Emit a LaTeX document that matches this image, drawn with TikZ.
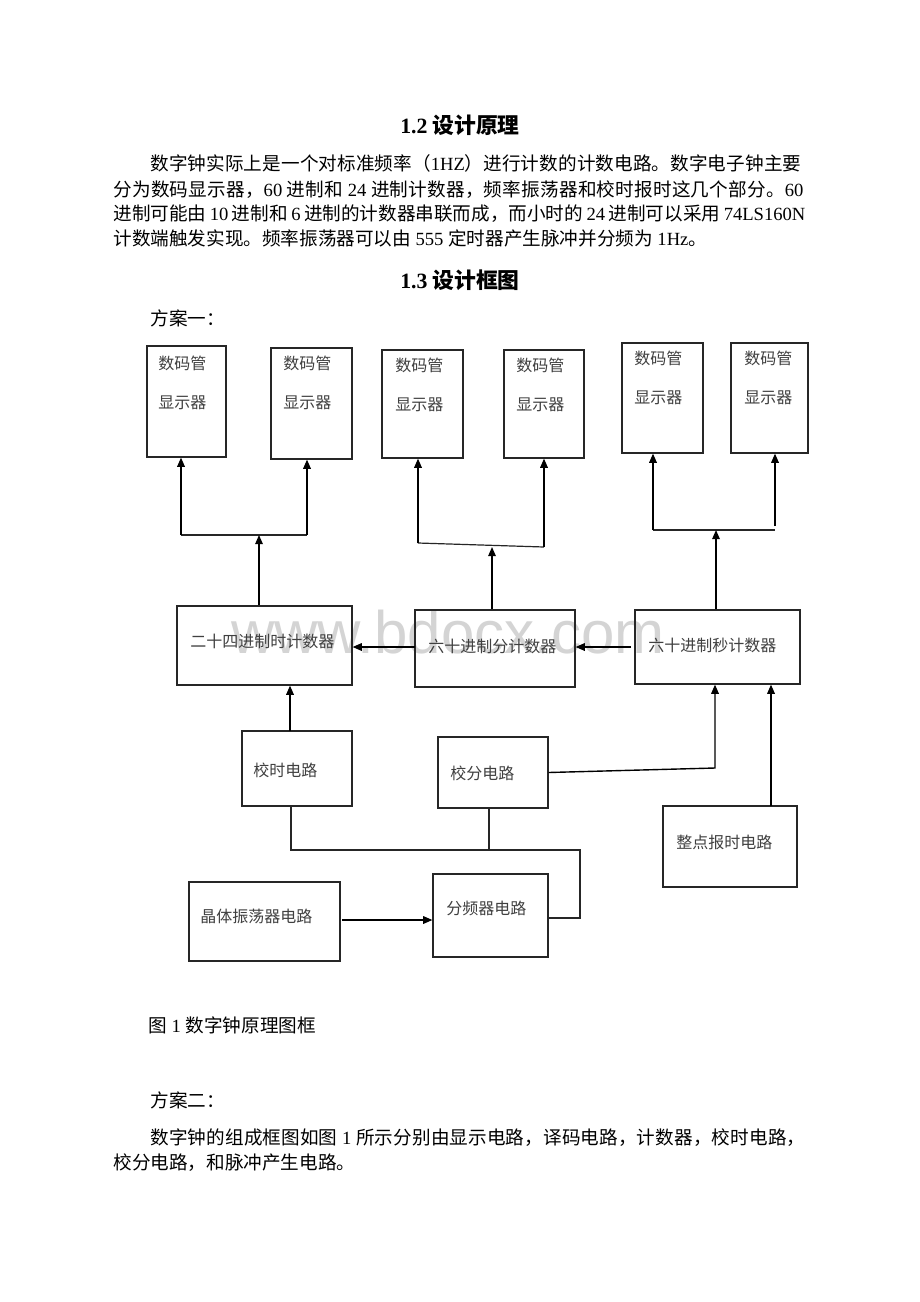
\documentclass[tikz,border=0pt]{standalone}
\usepackage{fontspec}
\setmainfont{Liberation Serif}
\newfontfamily\cjk{Noto Sans CJK SC}
\newfontfamily\wmfont{Liberation Sans}
\usetikzlibrary{fit,arrows.meta}
\newcommand\lat[1]{{\rmfamily #1}}
\XeTeXinterchartokenstate=1
\newXeTeXintercharclass\CJKcls
\count255="3000
\loop\ifnum\count255<"A000 \XeTeXcharclass\count255=\CJKcls \advance\count255 by 1 \repeat
\count255="FF00
\loop\ifnum\count255<"FFF0 \XeTeXcharclass\count255=\CJKcls \advance\count255 by 1 \repeat
\XeTeXinterchartoks\CJKcls\CJKcls={\hskip0pt plus 1fil\relax}
\begin{document}
\begin{tikzpicture}[x=0.5pt,y=-0.5pt,
  box/.style={draw=black!85,line width=0.6pt,inner sep=0pt,rectangle},
  arr/.style={draw=black,line width=0.7pt,-{Triangle[length=4.6pt,width=3.8pt]}},
  wire/.style={draw=black!85,line width=0.6pt},
  lab/.style={font=\cjk\fontsize{8}{9.6}\selectfont,text=black!75,inner sep=0pt,anchor=west},
  body/.style={font=\cjk\fontsize{9.3}{11}\selectfont,inner sep=0pt,anchor=base west},
  ttl/.style={font=\cjk\bfseries\fontsize{10.9}{13}\selectfont,inner sep=0pt,anchor=base},
  wm/.style={font=\wmfont\fontsize{30}{36}\selectfont,text=black!17,inner sep=0pt,anchor=base}]
\useasboundingbox[fill=white] (0,0) rectangle (920,1302);

% ---------- text ----------
\node[ttl] (t12) at (460,133) {\lat{1.2} 设计原理};
\node[body] (p1) at (150,170) {\makebox[325.5pt][s]{数字钟实际上是一个对标准频率（\lat{1HZ}）进行计数的计数电路。数字电子钟主要}};
\node[body] (p2) at (113,196) {\makebox[345pt][s]{分为数码显示器，\lat{60 }进制和\lat{ 24 }进制计数器，频率振荡器和校时报时这几个部分。\lat{60}}};
\node[body] (p3) at (113,220) {\makebox[346pt][s]{进制可能由\lat{ 10 }进制和\lat{ 6 }进制的计数器串联而成，而小时的\lat{ 24 }进制可以采用\lat{ 74LS160N}}};
\node[body] (p4) at (113,245) {计数端触发实现。频率振荡器可以由\lat{ 555 }定时器产生脉冲并分频为\lat{ 1Hz}。};
\node[ttl] (t13) at (460,288) {\lat{1.3} 设计框图};
\node[body] (fa1) at (150,325) {方案一：};
\node[body] (cap) at (148,1032) {图\lat{ 1 }数字钟原理图框};
\node[body] (fa2) at (150,1107) {方案二：};
\node[body] (q1) at (150,1144) {\makebox[327.5pt][s]{数字钟的组成框图如图\lat{ 1 }所示分别由显示电路，译码电路，计数器，校时电路，}};
\node[body] (q2) at (113,1169) {校分电路，和脉冲产生电路。};

% ---------- watermark ----------
\node[wm] (wmk) at (448,653) {www.bdocx.com};

% ---------- display boxes ----------
\node[box,fit={(147,346) (226,457)}] (d1) {};
\node[box,fit={(271,348) (352,459)}] (d2) {};
\node[box,fit={(382,350) (463,458)}] (d3) {};
\node[box,fit={(504,350) (584,458)}] (d4) {};
\node[box,fit={(622,343) (703,453)}] (d5) {};
\node[box,fit={(731,343) (808,453)}] (d6) {};
\foreach \n/\x/\y in {d1/158/363, d2/283/363, d3/395/365, d4/516/365, d5/634/358, d6/744/358}{
  \node[lab] (\n a) at (\x,\y) {数码管};
  \node[lab] (\n b) at (\x,\y+40) {显示器};
}

% ---------- counters ----------
\node[box,fit={(177,606) (352,685)}] (shi) {};
\node[box,fit={(415,610) (575,687)}] (fen) {};
\node[box,fit={(635,610) (800,684)}] (miao) {};
\node[lab] (shit) at (190,641) {二十四进制时计数器};
\node[lab] (fent) at (428,646) {六十进制分计数器};
\node[lab] (miaot) at (648,645) {六十进制秒计数器};

% ---------- lower boxes ----------
\node[box,fit={(242,731) (352,806)}] (jshi) {};
\node[box,fit={(438,737) (548,808)}] (jfen) {};
\node[box,fit={(663,806) (797,887)}] (zd) {};
\node[box,fit={(189,882) (340,961)}] (jt) {};
\node[box,fit={(433,874) (548,957)}] (fp) {};
\node[lab] (jshit) at (253,770) {校时电路};
\node[lab] (jfent) at (450,773) {校分电路};
\node[lab] (zdt) at (676,842) {整点报时电路};
\node[lab] (jtt) at (200,916) {晶体振荡器电路};
\node[lab] (fpt) at (446,908) {分频器电路};

% ---------- upper connectors ----------
\coordinate (g1l) at (181,535);
\coordinate (g1r) at (307,535);
\coordinate (g1m) at (259,535);
\draw[wire] (g1l) -- (g1r);
\draw[arr] (g1l) -- (g1l |- d1.south);
\draw[arr] (g1r) -- (g1r |- d2.south);
\draw[arr] (g1m |- shi.north) -- (g1m);

\coordinate (g2l) at (418,543);
\coordinate (g2r) at (544,547);
\coordinate (g2m) at (492,547);
\draw[wire] (g2l) -- (g2r);
\draw[arr] (g2l) -- (g2l |- d3.south);
\draw[arr] (g2r) -- (g2r |- d4.south);
\draw[arr] (g2m |- fen.north) -- (g2m);

\coordinate (g3l) at (653,530);
\coordinate (g3r) at (775,530);
\coordinate (g3rt) at (775,526);
\coordinate (g3m) at (716,530);
\draw[wire] (g3l) -- (g3r);
\draw[arr] (g3l) -- (g3l |- d5.south);
\draw[arr] (g3rt) -- (g3rt |- d6.south);
\draw[arr] (g3m |- miao.north) -- (g3m);

% ---------- counter chain ----------
\coordinate (fa) at (415,647);
\coordinate (ma) at (631,647);
\draw[arr] (fa) -- (fa -| shi.east);
\draw[arr] (ma) -- (ma -| fen.east);

% ---------- lower connectors ----------
\coordinate (h1) at (290,731);
\draw[arr] (h1) -- (h1 |- shi.south);
\coordinate (k1) at (715,768);
\draw[arr] (jfen.east) -- (k1) -- (k1 |- miao.south);
\coordinate (z1) at (771,806);
\draw[arr] (z1) -- (z1 |- miao.south);

\coordinate (m1) at (291,850);
\coordinate (m2) at (489,850);
\coordinate (m3) at (580,850);
\coordinate (m4) at (580,918);
\draw[wire] (m1 |- jshi.south) -- (m1) -- (m3) -- (m4) -- (m4 -| fp.east);
\draw[wire] (m2 |- jfen.south) -- (m2);

\coordinate (o1) at (342,920);
\draw[arr] (o1) -- (o1 -| fp.west);
\end{tikzpicture}
\end{document}
